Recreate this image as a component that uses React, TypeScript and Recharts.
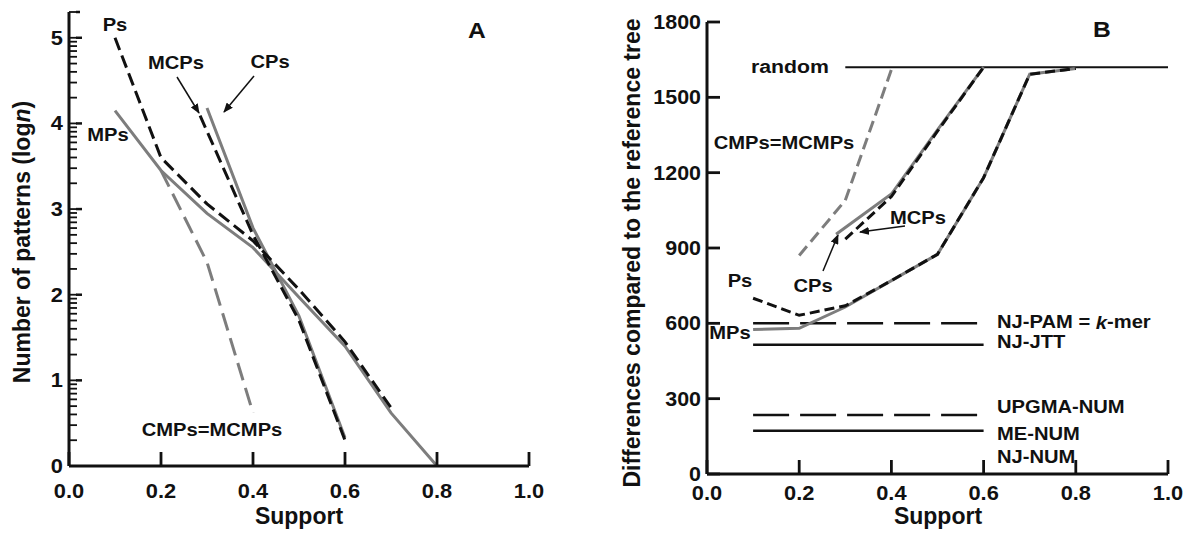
import React from "react";
import { LineChart, Line, XAxis, YAxis } from "recharts";

const FONT = "'Liberation Sans', Arial, Helvetica, sans-serif";
const INK = "#111";
const GREY = "#7d7d7d";

// ---- panel A: number of patterns (log n) vs support ----
const supportTicks = [0, 0.2, 0.4, 0.6, 0.8, 1.0];
const logMajorTicks = [0, 1, 2, 3, 4, 5];
const logTop = 5.301;

const psAx = [0.1, 0.2, 0.3, 0.4, 0.5, 0.6, 0.7];
const psAy = [5.0, 3.6, 3.06, 2.63, 2.06, 1.45, 0.68];
const mpsAx = [0.1, 0.2, 0.3, 0.4, 0.5, 0.6, 0.7, 0.8];
const mpsAy = [4.15, 3.45, 2.95, 2.55, 1.97, 1.4, 0.62, 0];
const cpsAx = [0.3, 0.4, 0.5, 0.6];
const cpsAy = [4.18, 2.78, 1.75, 0.33];
const mcpsAx = [0.285, 0.4, 0.5, 0.6];
const mcpsAy = [4.09, 2.7, 1.7, 0.3];
const cmpsAx = [0.2, 0.3, 0.4];
const cmpsAy = [3.45, 2.38, 0.62];

// ---- panel B: differences compared to the reference tree ----
const diffTicks = [0, 300, 600, 900, 1200, 1500, 1800];

const psBx = [0.1, 0.2, 0.3, 0.4, 0.5, 0.6, 0.7, 0.8];
const psBy = [700, 632, 670, 770, 875, 1180, 1592, 1615];
const mpsBx = [0.1, 0.2, 0.3, 0.4, 0.5, 0.6, 0.7, 0.8];
const mpsBy = [575, 580, 665, 770, 875, 1180, 1592, 1615];
const cpsBx = [0.28, 0.4, 0.5, 0.6];
const cpsBy = [955, 1115, 1370, 1620];
const mcpsBx = [0.3, 0.4, 0.5, 0.6];
const mcpsBy = [935, 1105, 1365, 1620];
const cmpsBx = [0.2, 0.3, 0.4];
const cmpsBy = [870, 1090, 1610];

const randomX = [0.3, 1.0];
const randomY = [1620, 1620];
const refX = [0.1, 0.6];
const njPam = 600;
const njJtt = 515;
const upgmaNum = 235;
const meNum = 172;

const zip = (xs: number[], ys: number[]) => xs.map((x, i) => ({ x, y: ys[i] }));
const flat = (v: number) => zip(refX, [v, v]);

const minorLogTicks = logMajorTicks
  .flatMap((n) => [2, 3, 4, 5, 6, 7, 8, 9].map((k) => n + Math.log10(k)))
  .filter((v) => v <= logTop + 0.001);
const logTicks = [...logMajorTicks, ...minorLogTicks].sort((a, b) => a - b);

const T = ({ x, y, size = 18, anchor = "middle", sx = 1.12, rotate = 0, style = "normal", children }: any) => (
  <text
    transform={`translate(${x},${y}) rotate(${rotate}) scale(${sx},1)`}
    textAnchor={anchor}
    dominantBaseline="central"
    fontFamily={FONT}
    fontSize={size}
    fontWeight="bold"
    fontStyle={style}
    fill={INK}
  >
    {children}
  </text>
);

// tick marks point inward (negative tickSize), so the label anchor is shifted back by the tick length
const X_TICK = 14;
const XTick = (labelGap: number) => (props: any) => {
  const { x, y, payload } = props;
  return (
    <T x={x} y={y + X_TICK + labelGap} size={19.5} sx={1.12}>
      {payload.value.toFixed(1)}
    </T>
  );
};

const MINOR = 8;
const LogTick = (props: any) => {
  const { x, y, payload } = props;
  const v = payload.value;
  const major = Math.abs(v - Math.round(v)) < 1e-6;
  const extra = major ? 5 : v > 5.2 ? 3 : 0;
  return (
    <g>
      {v > 0 && extra > 0 && <line x1={x - 1} x2={x + extra} y1={y} y2={y} stroke={INK} strokeWidth={2.5} />}
      {major && <T x={x - MINOR - 6} y={y} anchor="end" size={19.5} sx={1.12}>{v}</T>}
    </g>
  );
};

const B_TICK = 13;
const DiffTick = (props: any) => {
  const { x, y, payload } = props;
  return (
    <T x={x - B_TICK - 6} y={y} anchor="end" size={19.5} sx={1.1}>
      {payload.value}
    </T>
  );
};

const axisStyle = { stroke: INK, strokeWidth: 3 };
const tickStyle = { stroke: INK, strokeWidth: 2.8 };
const minorStyle = { stroke: INK, strokeWidth: 1.8 };

const lineProps = { type: "linear" as const, dataKey: "y", dot: false, activeDot: false, isAnimationActive: false };

export default function App() {
  return (
    <div style={{ position: "absolute", left: 0, top: 0, width: 1192, height: 534, background: "#fff", overflow: "hidden" }}>
      <svg width={1192} height={534} style={{ position: "absolute", left: 0, top: 0, pointerEvents: "none" }}>
        <defs>
          <marker id="ah" markerWidth={10} markerHeight={8} refX={9} refY={4} orient="auto" markerUnits="userSpaceOnUse">
            <path d="M0,0 L10,4 L0,8 Z" fill={INK} />
          </marker>
        </defs>
        {/* panel A */}
        <T x={22} y={242} size={23} sx={1} rotate={-90}>
          Number of patterns (log<tspan fontStyle="italic">n</tspan>)
        </T>
        <T x={299} y={516} size={23} sx={1}>Support</T>
        <T x={477} y={30} size={22}>A</T>
        <T x={115} y={25}>Ps</T>
        <T x={176} y={63}>MCPs</T>
        <T x={270} y={62}>CPs</T>
        <T x={108} y={135}>MPs</T>
        <T x={212} y={430}>CMPs=MCMPs</T>
        <line x1={177} y1={77} x2={199} y2={113} stroke={INK} strokeWidth={1.5} markerEnd="url(#ah)" />
        <line x1={254} y1={76} x2={224} y2={112} stroke={INK} strokeWidth={1.5} markerEnd="url(#ah)" />
        {/* panel B */}
        <T x={632} y={253} size={23} sx={1} rotate={-90}>Differences compared to the reference tree</T>
        <T x={938} y={516} size={23} sx={1}>Support</T>
        <T x={1102} y={29} size={22}>B</T>
        <T x={790} y={66} size={19}>random</T>
        <T x={784} y={143}>CMPs=MCMPs</T>
        <T x={918} y={218}>MCPs</T>
        <T x={813} y={286}>CPs</T>
        <T x={740} y={281}>Ps</T>
        <T x={730} y={333}>MPs</T>
        <line x1={905} y1={226} x2={860} y2={232} stroke={INK} strokeWidth={1.5} markerEnd="url(#ah)" />
        <line x1={823} y1={271} x2={838} y2={235} stroke={INK} strokeWidth={1.5} markerEnd="url(#ah)" />
        <T x={997} y={322} anchor="start">
          NJ-PAM = <tspan fontStyle="italic">k</tspan>-mer
        </T>
        <T x={997} y={342} anchor="start">NJ-JTT</T>
        <T x={997} y={407} anchor="start">UPGMA-NUM</T>
        <T x={997} y={434} anchor="start">ME-NUM</T>
        <T x={997} y={457} anchor="start">NJ-NUM</T>
      </svg>
      <div style={{ position: "absolute", left: 0, top: 0 }}>
        <LineChart width={590} height={534} margin={{ top: 12, right: 61, bottom: 67, left: 68 }}>
          <XAxis type="number" dataKey="x" domain={[0, 1]} ticks={supportTicks} interval={0} height={1} tickSize={-X_TICK} tickMargin={0} tickLine={tickStyle} axisLine={axisStyle} tick={XTick(25)} />
          <YAxis type="number" domain={[0, logTop]} ticks={logTicks} interval={0} width={1} tickSize={-MINOR} tickMargin={0} tickLine={minorStyle} axisLine={axisStyle} tick={LogTick} />
          <Line {...lineProps} data={zip(mpsAx, mpsAy)} stroke={GREY} strokeWidth={3} />
          <Line {...lineProps} data={zip(cpsAx, cpsAy)} stroke={GREY} strokeWidth={3} />
          <Line {...lineProps} data={zip(cmpsAx, cmpsAy)} stroke={GREY} strokeWidth={3} strokeDasharray="18 8" />
          <Line {...lineProps} data={zip(psAx, psAy)} stroke={INK} strokeWidth={3} strokeDasharray="13 6" />
          <Line {...lineProps} data={zip(mcpsAx, mcpsAy)} stroke={INK} strokeWidth={3} strokeDasharray="13 6" />
        </LineChart>
      </div>
      <div style={{ position: "absolute", left: 600, top: 0 }}>
        <LineChart width={592} height={534} margin={{ top: 22, right: 24, bottom: 59, left: 106 }}>
          <XAxis type="number" dataKey="x" domain={[0, 1]} ticks={supportTicks} interval={0} height={1} tickSize={-X_TICK} tickMargin={0} tickLine={tickStyle} axisLine={axisStyle} tick={XTick(19)} />
          <YAxis type="number" domain={[0, 1800]} ticks={diffTicks} interval={0} width={1} tickSize={-B_TICK} tickMargin={0} tickLine={tickStyle} axisLine={axisStyle} tick={DiffTick} />
          <Line {...lineProps} data={zip(randomX, randomY)} stroke={INK} strokeWidth={2} />
          <Line {...lineProps} data={flat(njPam)} stroke={INK} strokeWidth={2.5} strokeDasharray="36 11" />
          <Line {...lineProps} data={flat(njJtt)} stroke={INK} strokeWidth={2.5} />
          <Line {...lineProps} data={flat(upgmaNum)} stroke={INK} strokeWidth={2.5} strokeDasharray="36 11" />
          <Line {...lineProps} data={flat(meNum)} stroke={INK} strokeWidth={2.5} />
          <Line {...lineProps} data={zip(cmpsBx, cmpsBy)} stroke={GREY} strokeWidth={3} strokeDasharray="12 6" />
          <Line {...lineProps} data={zip(mpsBx, mpsBy)} stroke={GREY} strokeWidth={3} />
          <Line {...lineProps} data={zip(cpsBx, cpsBy)} stroke={GREY} strokeWidth={3} />
          <Line {...lineProps} data={zip(psBx, psBy)} stroke={INK} strokeWidth={3} strokeDasharray="10 5" />
          <Line {...lineProps} data={zip(mcpsBx, mcpsBy)} stroke={INK} strokeWidth={3} strokeDasharray="10 5" />
        </LineChart>
      </div>
    </div>
  );
}
